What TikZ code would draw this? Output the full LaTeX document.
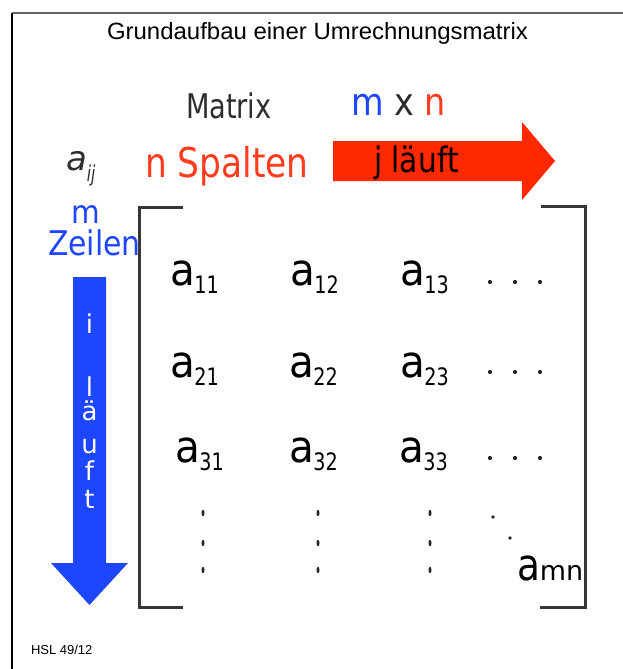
\documentclass[tikz,border=0pt]{standalone}
\usepackage{fontspec}
\usepackage{graphicx}
\setmainfont{DejaVu Sans}
\newfontfamily\arialf{Liberation Sans}
\definecolor{myblue}{RGB}{30,70,255}
\definecolor{myred}{RGB}{255,60,30}
\definecolor{arrred}{RGB}{255,40,0}
\definecolor{txtgrey}{RGB}{45,45,45}
\definecolor{brk}{RGB}{55,55,55}
\newcommand\hs[2]{\scalebox{#1}[1]{#2}}
\newcommand\fs[1]{\fontsize{#1}{#1}\selectfont}
\newcommand\ent[1]{\fs{44}\hs{0.92}{a}\kern-0.5pt\raisebox{-8pt}{\fs{24}\hs{0.8}{#1}}}
\begin{document}
\begin{tikzpicture}[x=1pt,y=-1pt,
  lbl/.style={inner sep=0pt, outer sep=0pt, anchor=base west},
  vlet/.style={inner sep=0pt, outer sep=0pt, anchor=base, text=white, font=\fs{26}},
  bracket/.style={draw=brk, line width=3pt, line join=miter},
  hdot/.style={fill=black!85},
  frame/.style={line width=1.3pt}]
\useasboundingbox (0,0) rectangle (622,669);
% outer frame
\draw[frame, black!60] (12,13) -- (640,13);
\draw[frame, black] (12,13) -- (12,680);
% title
\node[lbl] (title) at (107,40) {\arialf\fs{23.5}\hs{1.02}{Grundaufbau einer Umrechnungsmatrix}};
% header texts
\node[lbl, text=txtgrey] (matrix) at (186,118) {\fs{34}\hs{0.8}{Matrix}};
\node[lbl] (mxn) at (351,115) {\fs{38}\hs{0.88}{\textcolor{myblue}{m} \textcolor{txtgrey}{x} \textcolor{myred}{n}}};
\node[lbl, text=txtgrey] (aij) at (66,170) {\fs{34}\itshape a\raisebox{-11pt}{\fs{22}\hs{0.7}{ij}}};
\node[lbl, text=myred] (spalten) at (145,177) {\fs{41}\hs{0.84}{n Spalten}};
% red arrow
\fill[arrred] (333,141) -- (522,141) -- (522,122) -- (555,161) -- (522,200) -- (522,181) -- (333,181) -- cycle;
\node[lbl, text=black] (jlauft) at (374,172) {\fs{35}\hs{0.85}{j läuft}};
% m Zeilen
\node[lbl, text=myblue] (mrow) at (71,223) {\fs{32}\hs{0.92}{m}};
\node[lbl, text=myblue] (zeilen) at (48,255) {\fs{34}\hs{0.88}{Zeilen}};
% blue arrow
\fill[myblue] (73,277) -- (106,277) -- (106,563) -- (128,563) -- (89.5,605) -- (51,563) -- (73,563) -- cycle;
\node[vlet] (vi) at (89.5,333) {i};
\node[vlet] (vl) at (89.5,396) {l};
\node[vlet] (va) at (89.5,420) {ä};
\node[vlet] (vu) at (89.5,453) {u};
\node[vlet] (vf) at (89.5,480) {f};
\node[vlet] (vt) at (89.5,508) {t};
% brackets
\draw[bracket] (183,207) -- (139,207) -- (139,607) -- (183,607);
\draw[bracket] (541,206) -- (585,206) -- (585,607) -- (540,607);
% entries
\node[lbl] (a11) at (170,285) {\ent{11}};
\node[lbl] (a12) at (290,285) {\ent{12}};
\node[lbl] (a13) at (400,285) {\ent{13}};
\node[lbl] (a21) at (170,377) {\ent{21}};
\node[lbl] (a22) at (289,377) {\ent{22}};
\node[lbl] (a23) at (400,377) {\ent{23}};
\node[lbl] (a31) at (175,462) {\ent{31}};
\node[lbl] (a32) at (289,462) {\ent{32}};
\node[lbl] (a33) at (399,462) {\ent{33}};
\node[lbl] (amn) at (517,580) {\fs{44}\hs{0.85}{a}\fs{27}mn};
% horizontal dots
\foreach \y in {282,372,458}{
  \foreach \x in {490,515,540}{ \fill[hdot] (\x,\y) circle (2.1); }
}
% vertical dots
\foreach \x in {203,318,430}{
  \foreach \y in {513,543,570}{ \fill[hdot] (\x,\y) ellipse (1.5 and 3.2); }
}
% diagonal dots
\fill[hdot] (493,517) circle (1.8);
\fill[hdot] (510,538) circle (1.8);
% footer
\node[lbl] (hsl) at (31,654) {\arialf\fs{13}HSL 49/12};
\end{tikzpicture}
\end{document}
